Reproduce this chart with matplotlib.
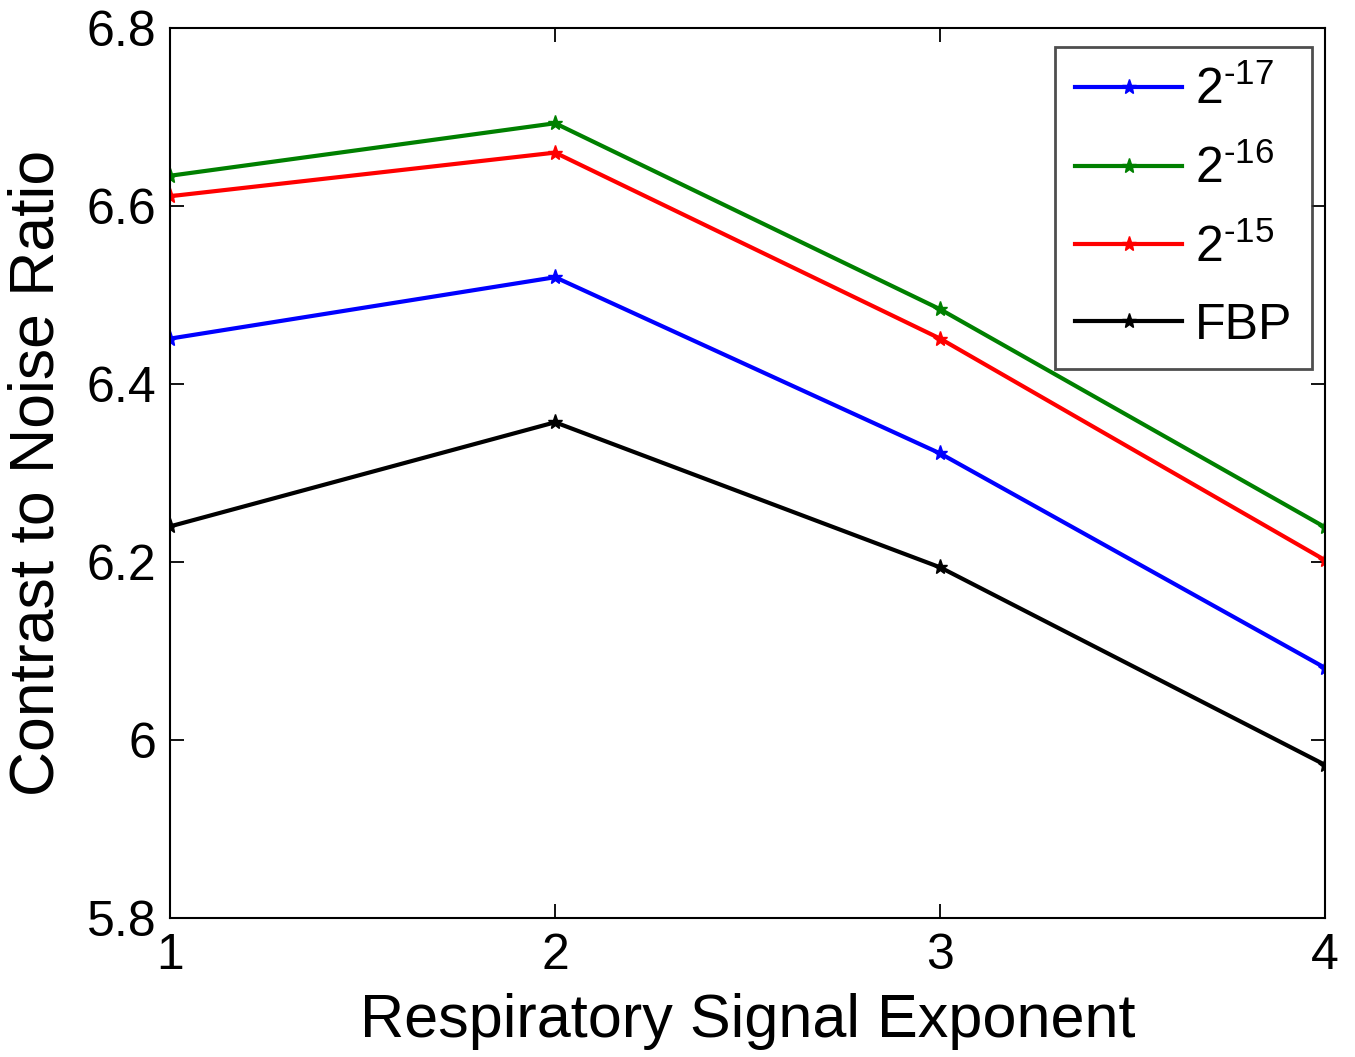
import matplotlib.pyplot as plt

plt.rcParams['font.family'] = ['Liberation Sans', 'DejaVu Sans']
plt.rcParams['mathtext.fontset'] = 'custom'
plt.rcParams['mathtext.rm'] = 'Liberation Sans'

exponents = [1, 2, 3, 4]
cnr_2m17 = [6.451, 6.520, 6.322, 6.081]
cnr_2m16 = [6.634, 6.693, 6.484, 6.239]
cnr_2m15 = [6.611, 6.660, 6.451, 6.202]
cnr_fbp = [6.240, 6.357, 6.194, 5.972]

series = [
    (cnr_2m17, 'blue', '2$^{\\mathrm{\u201017}}$'),
    (cnr_2m16, 'green', '2$^{\\mathrm{\u201016}}$'),
    (cnr_2m15, 'red', '2$^{\\mathrm{\u201015}}$'),
    (cnr_fbp, 'black', 'FBP'),
]

fig = plt.figure(figsize=(13.55, 10.57), dpi=100)
ax = fig.add_axes([0.1255, 0.1315, 0.8525, 0.842])

for values, color, label in series:
    ax.plot(exponents, values, color=color, linewidth=3, marker='*',
            markersize=11, label=label)

ax.set_xlim(1, 4)
ax.set_ylim(5.8, 6.8)
ax.set_xticks([1, 2, 3, 4])
ax.set_yticks([5.8, 6.0, 6.2, 6.4, 6.6, 6.8])
ax.set_yticklabels(['5.8', '6', '6.2', '6.4', '6.6', '6.8'])
ax.tick_params(direction='in', length=10, width=1.3, labelsize=36,
               top=True, right=True)
ax.tick_params(axis='x', pad=11)
ax.tick_params(axis='y', pad=10)
for spine in ax.spines.values():
    spine.set_linewidth(1.5)

ax.set_xlabel('Respiratory Signal Exponent', fontsize=44, labelpad=10)
ax.set_ylabel('Contrast to Noise Ratio', fontsize=45, labelpad=14)

leg = ax.legend(loc='upper right', fontsize=36, frameon=True, fancybox=False,
                edgecolor='#222222', handlelength=2.15, borderpad=0.4,
                labelspacing=0.62, handletextpad=0.25, borderaxespad=0,
                bbox_to_anchor=(0.9887, 0.9787))
leg.get_frame().set_linewidth(2)

fig.savefig('out.png', dpi=100)
